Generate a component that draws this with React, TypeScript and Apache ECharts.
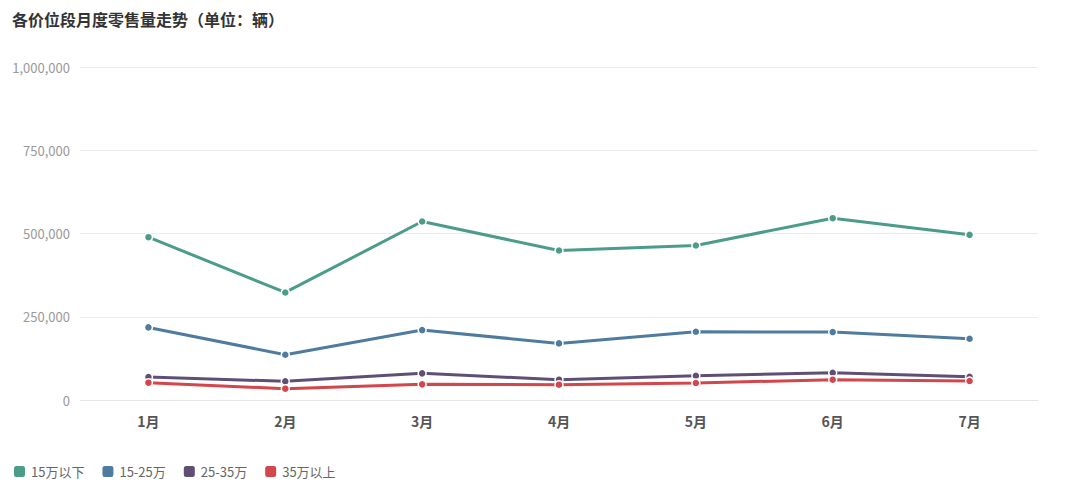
import React, { useEffect, useRef } from "react";
import * as echarts from "echarts";

const categories = ["1月", "2月", "3月", "4月", "5月", "6月", "7月"];
const seriesNames = ["15万以下", "15-25万", "25-35万", "35万以上"];
const below15 = [489000, 323000, 536000, 449000, 464000, 546000, 496000];
const from15to25 = [218000, 136000, 210000, 170000, 205000, 204000, 184000];
const from25to35 = [69000, 56000, 80000, 61000, 73000, 82000, 70000];
const above35 = [52000, 34000, 47000, 46000, 51000, 61000, 57000];
const colors = ["#4c9c8a", "#4f7b9f", "#5f4f74", "#d3464c"];

export default function App() {
  const ref = useRef<HTMLDivElement>(null);
  useEffect(() => {
    if (!ref.current) return;
    const chart = echarts.init(ref.current, null, { renderer: "svg" });
    const data = [below15, from15to25, from25to35, above35];
    chart.setOption({
      animation: false,
      color: colors,
      title: {
        text: "各价位段月度零售量走势（单位：辆）",
        left: 4,
        top: 3,
        padding: 0,
        textStyle: {
          fontSize: 16,
          fontWeight: "bold",
          color: "#333",
          fontFamily: "Noto Sans CJK SC",
        },
      },
      legend: {
        left: 4,
        top: 456,
        padding: 0,
        itemWidth: 13,
        itemHeight: 13,
        itemGap: 16,
        icon: "roundRect",
        textStyle: { fontSize: 13, color: "#666", fontFamily: "Noto Sans CJK SC" },
        data: seriesNames,
      },
      grid: { left: 72, right: 34, top: 59, bottom: 89 },
      xAxis: {
        type: "category",
        data: categories,
        boundaryGap: true,
        axisLine: { lineStyle: { color: "#e6e6e6" } },
        axisTick: { show: false },
        axisLabel: {
          fontSize: 14,
          color: "#555",
          fontWeight: "bold",
          margin: 14,
          fontFamily: "Noto Sans CJK SC",
        },
      },
      yAxis: {
        type: "value",
        min: 0,
        max: 1000000,
        interval: 250000,
        axisLine: { show: false },
        axisTick: { show: false },
        splitLine: { lineStyle: { color: "#ebebeb" } },
        axisLabel: {
          fontSize: 13,
          color: "#999",
          margin: 10,
          fontFamily: "Noto Sans CJK SC",
          formatter: (v: number) => v.toLocaleString("en-US"),
        },
      },
      series: seriesNames.map((name, i) => ({
        name,
        type: "line",
        data: data[i],
        symbol: "circle",
        symbolSize: 8,
        lineStyle: { width: 3, color: colors[i] },
        itemStyle: { color: colors[i], borderColor: "#fff", borderWidth: 1.5 },
      })),
    });
    return () => chart.dispose();
  }, []);
  return <div ref={ref} style={{ width: 1064, height: 481 }} />;
}
